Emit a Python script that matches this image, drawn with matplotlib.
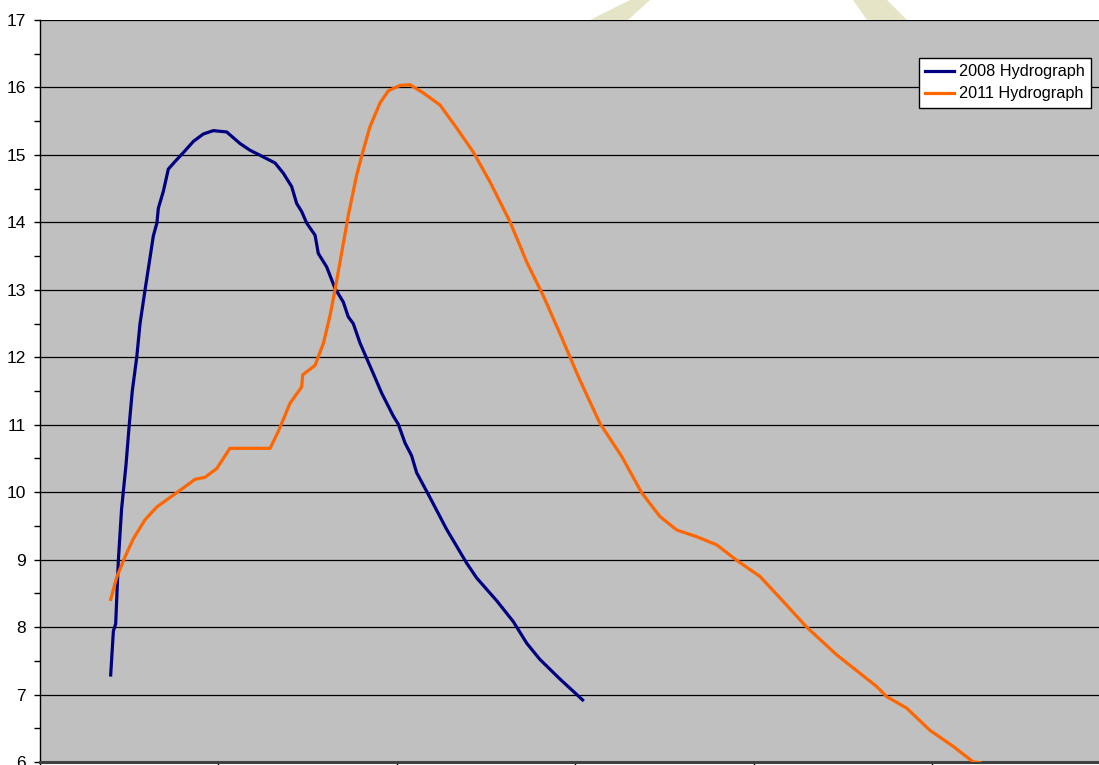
import matplotlib
matplotlib.use("Agg")
import matplotlib.pyplot as plt
from matplotlib.patches import Polygon
from matplotlib.ticker import MultipleLocator

plt.rcParams['font.family'] = ['Liberation Sans', 'DejaVu Sans']

# 2008 hydrograph (time units, stage)
x_2008 = [39.6, 41.1, 42.4, 43.9, 45.7, 48.2, 50.0, 51.7, 54.2, 56.0, 58.8, 61.6,
          63.5, 65.5, 66.3, 69.1, 71.9, 75.6, 81.2, 85.9, 91.5, 97.1, 104.6, 112.0,
          117.6, 125.1, 131.7, 136.3, 141.0, 143.8, 146.6, 149.4, 154.1, 155.9,
          160.6, 165.3, 169.9, 172.7, 175.5, 179.3, 186.7, 191.4, 197.9, 200.7,
          204.5, 208.2, 211.0, 218.5, 227.8, 239.0, 244.6, 255.9, 265.2, 272.7,
          280.1, 291.3, 304.0]
y_2008 = [7.29, 7.94, 8.05, 8.99, 9.75, 10.41, 11.00, 11.50, 12.00, 12.49, 12.99, 13.47,
          13.80, 13.99, 14.21, 14.46, 14.79, 14.90, 15.06, 15.20, 15.31, 15.36, 15.34, 15.17,
          15.07, 14.97, 14.88, 14.73, 14.53, 14.28, 14.16, 13.99, 13.81, 13.54,
          13.34, 13.02, 12.82, 12.60, 12.50, 12.21, 11.76, 11.47, 11.13, 11.01,
          10.73, 10.54, 10.29, 9.92, 9.45, 8.95, 8.73, 8.39, 8.08, 7.76,
          7.52, 7.23, 6.92]

# 2011 hydrograph
x_2011 = [39.6, 43.0, 47.6, 52.3, 58.8, 65.4, 73.8, 81.2, 86.8, 92.4, 99.0, 106.4,
          128.9, 133.5, 140.1, 146.6, 147.2, 154.1, 158.8, 162.5, 165.3, 169.0,
          172.7, 177.4, 181.1, 184.9, 190.5, 195.1, 201.7, 207.3, 214.7, 224.1,
          233.4, 242.8, 252.1, 263.3, 272.7, 282.0, 291.3, 302.5, 313.7, 325.9,
          337.1, 347.3, 356.7, 367.9, 379.1, 390.3, 403.4, 416.4, 429.5, 446.3,
          468.7, 474.3, 485.5, 498.6, 511.7, 522.9, 526.6]
y_2011 = [8.41, 8.74, 9.04, 9.31, 9.59, 9.78, 9.94, 10.08, 10.19, 10.22, 10.35, 10.65,
          10.65, 10.90, 11.32, 11.56, 11.74, 11.88, 12.21, 12.62, 13.00, 13.55,
          14.10, 14.70, 15.07, 15.42, 15.77, 15.95, 16.03, 16.04, 15.92, 15.74,
          15.40, 15.04, 14.60, 14.01, 13.41, 12.91, 12.35, 11.66, 11.02, 10.53,
          9.99, 9.64, 9.44, 9.34, 9.22, 8.99, 8.75, 8.38, 8.00, 7.59,
          7.12, 6.97, 6.80, 6.47, 6.23, 6.00, 5.99]

fig = plt.figure(figsize=(10.99, 7.65), dpi=100)

# faint watermark strokes behind the chart
wm = '#E6E4C6'
for pts in ([(630, 0), (650, 0), (628, 20), (590, 20)],
            [(853, 0), (887, 0), (907, 20), (867, 20)]):
    fig.patches.append(Polygon([(x / 1099, 1 - y / 765) for x, y in pts],
                               closed=True, transform=fig.transFigure,
                               facecolor=wm, edgecolor='none', zorder=0))

ax = fig.add_axes([40 / 1099, 3 / 765, 1059 / 1099, 742 / 765])
ax.set_facecolor('#C0C0C0')

ax.plot(x_2008, y_2008, color='#000080', lw=2.3, label='2008 Hydrograph', zorder=3)
ax.plot(x_2011, y_2011, color='#FF6600', lw=2.3, label='2011 Hydrograph', zorder=3)

ax.set_xlim(0, 593.3)
ax.set_ylim(6, 17)
ax.xaxis.set_major_locator(MultipleLocator(100))
ax.yaxis.set_major_locator(MultipleLocator(1))
ax.yaxis.set_minor_locator(MultipleLocator(0.5))
ax.grid(axis='y', which='major', color='black', lw=0.9)
ax.set_axisbelow(True)

ax.spines['top'].set_visible(False)
ax.spines['right'].set_visible(False)
ax.spines['left'].set_color('black')
ax.spines['left'].set_linewidth(1.0)
ax.spines['bottom'].set_color('#404040')
ax.spines['bottom'].set_linewidth(2.2)

ax.tick_params(axis='y', which='major', direction='out', length=4.5, width=1,
               labelsize=12.5, pad=5.5, colors='black')
ax.tick_params(axis='y', which='minor', direction='out', length=4.5, width=1)
ax.tick_params(axis='x', which='major', direction='out', length=5, width=1,
               labelbottom=False)

leg = ax.legend(loc='upper right', bbox_to_anchor=(0.9924, 0.9488), borderaxespad=0,
                fancybox=False, framealpha=1, edgecolor='black', fontsize=11.7,
                handlelength=1.75, labelspacing=0.42, borderpad=0.4, handletextpad=0.3)
leg.get_frame().set_linewidth(1.0)

plt.savefig('out.png', dpi=100)
